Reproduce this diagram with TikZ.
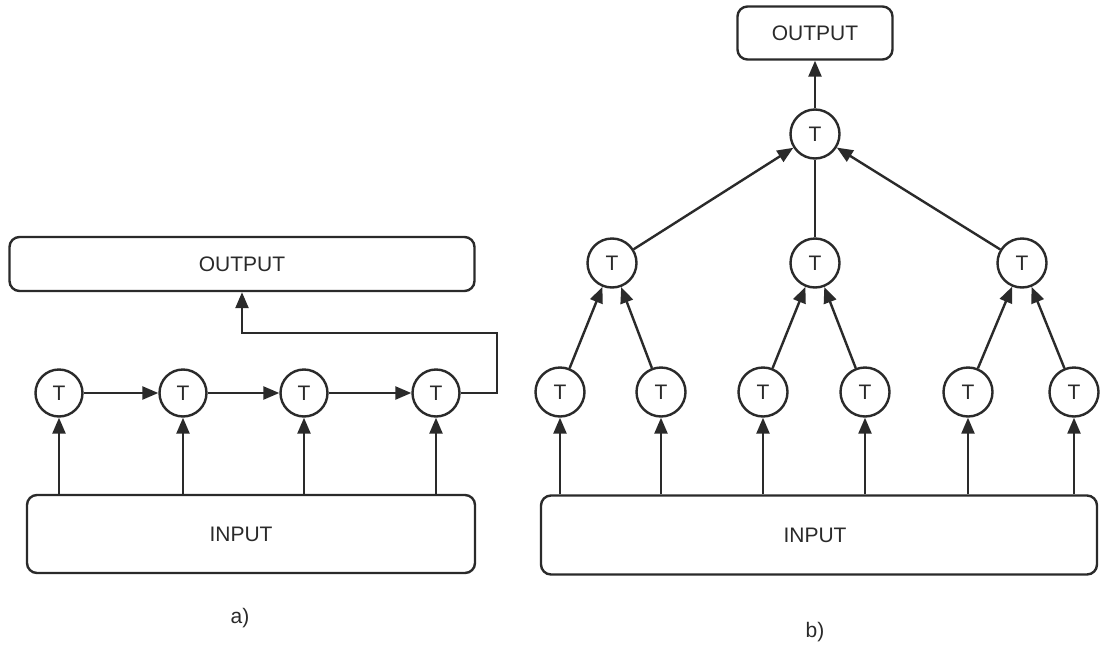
\documentclass[tikz,border=0pt]{standalone}
\usepackage{fontspec}
\setmainfont{Liberation Sans}
\usetikzlibrary{arrows.meta}
\definecolor{ink}{HTML}{2a2a2a}
\begin{document}
\begin{tikzpicture}[x=1pt,y=-1pt,
  every node/.style={font=\fontsize{21}{23}\selectfont, text=ink},
  box/.style={draw=ink, line width=2.4pt, rounded corners=10pt, inner sep=0pt},
  tnode/.style={draw=ink, circle, line width=2.4pt, minimum size=47pt, inner sep=0pt},
  tnodeb/.style={tnode, minimum size=49pt},
  wire/.style={draw=ink, line width=2.4pt},
  link/.style={wire, -{Triangle[length=16pt,width=13pt]}}]
\useasboundingbox[fill=white] (0,0) rectangle (1101,651);

% ---- a) chained processors ----
\node[box, minimum width=465pt, minimum height=54pt] (outa) at (242,264) {OUTPUT};
\node[box, minimum width=448pt, minimum height=78pt] (ina) at (251,534) {\hspace*{-20pt}INPUT};
\node[tnode] (ca1) at (59,393) {T};
\node[tnode] (ca2) at (183,393) {T};
\node[tnode] (ca3) at (304,393) {T};
\node[tnode] (ca4) at (436,393) {T};
\foreach \i in {1,...,4}
  \draw[link] (ca\i |- ina.north) -- (ca\i);
\draw[link] (ca1) -- (ca2);
\draw[link] (ca2) -- (ca3);
\draw[link] (ca3) -- (ca4);
\coordinate (fbA) at (497,393);
\coordinate (fbB) at (497,333);
\draw[link] (ca4) -- (fbA) -- (fbB) -- (fbB -| outa.south) -- (outa.south);
\node (la) at (240,618) {a)};

% ---- b) tree of processors ----
\node[box, minimum width=155pt, minimum height=53pt] (outb) at (815,33) {OUTPUT};
\node[box, minimum width=556pt, minimum height=79pt] (inb) at (819,535) {\hspace*{-8pt}INPUT};
\node[tnodeb] (top) at (815,134) {T};
\node[tnodeb] (m1) at (612,263) {T};
\node[tnodeb] (m2) at (815,263) {T};
\node[tnodeb] (m3) at (1022,263) {T};
\node[tnodeb] (b1) at (560,392) {T};
\node[tnodeb] (b2) at (661,392) {T};
\node[tnodeb] (b3) at (763,392) {T};
\node[tnodeb] (b4) at (865,392) {T};
\node[tnodeb] (b5) at (968,392) {T};
\node[tnodeb] (b6) at (1074,392) {T};
\foreach \i in {1,...,6}
  \draw[link] (b\i |- inb.north) -- (b\i);
\draw[link] (b1) -- (m1);
\draw[link] (b2) -- (m1);
\draw[link] (b3) -- (m2);
\draw[link] (b4) -- (m2);
\draw[link] (b5) -- (m3);
\draw[link] (b6) -- (m3);
\draw[link] (m1) -- (top);
\draw[wire] (m2) -- (top);
\draw[link] (m3) -- (top);
\draw[link] (top) -- (outb);
\node (lb) at (815,632) {b)};
\end{tikzpicture}
\end{document}
